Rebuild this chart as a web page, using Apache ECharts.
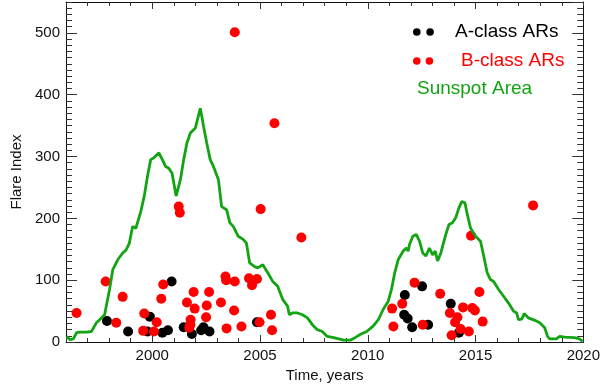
<!DOCTYPE html>
<html>
<head>
<meta charset="utf-8">
<script src="https://cdn.jsdelivr.net/npm/echarts@6/dist/echarts.min.js"></script>
<style>html,body{margin:0;padding:0;background:#fff}#c{width:603px;height:388px}</style>
</head>
<body>
<div id="c"></div>
<script>
// Sunspot area (scaled) line
var sunYears = [1996.03,1996.18,1996.34,1996.49,1996.64,1996.95,1997.18,1997.25,1997.41,1997.56,1997.79,1998.02,1998.17,1998.40,1998.63,1998.79,1998.94,1999.09,1999.24,1999.47,1999.63,1999.78,1999.93,2000.08,2000.16,2000.31,2000.47,2000.62,2000.77,2000.92,2001.11,2001.31,2001.46,2001.61,2001.77,2002.00,2002.23,2002.30,2002.38,2002.53,2002.69,2002.84,2003.07,2003.22,2003.45,2003.60,2003.76,2003.99,2004.22,2004.37,2004.52,2004.75,2004.90,2005.13,2005.36,2005.59,2005.82,2006.05,2006.28,2006.36,2006.51,2006.74,2006.97,2007.20,2007.43,2007.66,2007.89,2008.12,2008.42,2008.65,2008.88,2009.18,2009.41,2009.64,2009.95,2010.26,2010.49,2010.72,2010.95,2011.10,2011.25,2011.41,2011.64,2011.79,2011.87,2011.94,2012.09,2012.25,2012.40,2012.55,2012.70,2012.86,2013.01,2013.13,2013.24,2013.39,2013.62,2013.77,2013.93,2014.08,2014.23,2014.36,2014.51,2014.62,2014.77,2015.00,2015.23,2015.38,2015.54,2015.69,2015.84,2016.07,2016.30,2016.53,2016.76,2016.91,2016.99,2017.14,2017.26,2017.45,2017.75,2017.98,2018.21,2018.34,2018.44,2018.75,2018.90,2019.13,2019.59,2019.82,2019.97];
var sunValues = [9,4,5,15,16,16,17,20,31,36,44,85,117,133,144,149,160,187,184,211,236,268,295,298,300,306,295,284,281,273,236,263,295,322,338,346,378,365,349,322,295,284,263,219,214,193,187,171,166,160,128,122,120,125,112,98,90,69,58,44,47,47,44,39,28,20,17,9,7,5,3,3,7,12,17,26,36,53,66,85,112,133,147,152,147,158,171,174,163,144,139,152,141,147,131,144,174,190,193,201,217,227,225,206,184,171,163,139,112,101,98,85,74,63,50,47,36,37,46,39,35,31,23,9,5,5,9,8,7,5,1];

// A-class ARs (black)
var aYears = [1997.90,1998.88,1999.78,1999.89,2000.47,2000.73,2000.90,2001.46,2001.84,2002.27,2002.38,2002.66,2004.86,2011.72,2012.52,2011.69,2011.85,2012.06,2012.80,2013.85,2014.23];
var aValues = [34,17,17,41,15,19,98,24,13,19,24,17,32,76,90,44,38,24,28,62,15];

// B-class ARs (red)
var bYears = [1996.49,1997.84,1998.33,1998.63,1999.63,1999.58,2000.08,2000.21,2000.42,2000.51,2001.23,2001.28,2001.61,2001.78,2001.77,2001.72,2001.92,2001.97,2002.50,2002.53,2002.64,2003.19,2003.40,2003.43,2003.83,2003.80,2003.45,2003.83,2004.14,2004.49,2004.63,2004.86,2005.03,2004.98,2005.51,2005.56,2005.67,2006.92,2011.13,2011.19,2011.60,2012.17,2012.55,2013.36,2013.81,2013.89,2014.05,2014.16,2014.31,2014.42,2014.69,2014.85,2014.97,2015.18,2015.33,2014.79,2017.67];
var bValues = [47,98,31,73,46,18,17,32,70,93,219,209,64,36,28,23,81,54,40,59,81,64,106,100,98,51,22,501,25,103,92,102,215,32,44,19,354,169,54,25,62,96,28,78,47,11,32,40,21,56,17,55,51,81,33,172,221];

// Major x ticks inside the plot (labels every 5 years)
var xMajorTicks = [2000,2005,2010,2015];

var FONT = "Liberation Sans";
var GREEN = '#12a412';

function pairs(xs, ys){ return xs.map(function(x,i){ return [x, ys[i]]; }); }

var chart = echarts.init(document.getElementById('c'));

var nameStyle = {fontSize:15, color:'#111', fontFamily:FONT};
var legText = function(c){ return {fontSize:19, fontFamily:FONT, color:c, lineHeight:20}; };
var iconA = 'path://M0,0M0,3.8a3.8,3.8 0 1,0 7.6,0a3.8,3.8 0 1,0 -7.6,0M13.3,3.8a3.8,3.8 0 1,0 7.6,0a3.8,3.8 0 1,0 -7.6,0M37,7.6';
var iconB = 'path://M0,0M0,3.8a3.8,3.8 0 1,0 7.6,0a3.8,3.8 0 1,0 -7.6,0M12.6,3.8a3.8,3.8 0 1,0 7.6,0a3.8,3.8 0 1,0 -7.6,0M43,7.6';

chart.setOption({
  animation:false,
  grid:{left:66, right:14, top:2, bottom:46},
  legend:[
    {data:['A-class ARs'], left:413, top:22, padding:0, selectedMode:false, icon:iconA,
     itemWidth:37, itemHeight:7.6, textStyle:legText('#000')},
    {data:['B-class ARs'], left:413, top:51, padding:0, selectedMode:false, icon:iconB,
     itemWidth:43, itemHeight:7.6, textStyle:legText('#ff0000')},
    {data:[{name:'Sunspot Area', itemStyle:{opacity:0}, lineStyle:{opacity:0}}], left:411, top:79, padding:0,
     selectedMode:false, icon:'rect', itemWidth:1, itemHeight:1, textStyle:legText(GREEN)}
  ],
  xAxis:[
    {type:'value', min:1996, max:2020, interval:1, position:'bottom', splitLine:{show:false},
     axisLine:{show:true, onZero:false, lineStyle:{color:'#111'}},
     axisTick:{show:true, inside:true, length:4, lineStyle:{color:'#333'}},
     axisLabel:{show:true, fontSize:15, color:'#111', fontFamily:FONT, margin:6,
       formatter:function(v){ return (Math.round(v) % 5 === 0) ? String(Math.round(v)) : ''; }},
     name:'Time, years', nameLocation:'middle', nameGap:21, nameTextStyle:nameStyle},
    {type:'value', min:1996, max:2020, position:'bottom', splitLine:{show:false},
     axisLine:{show:false, onZero:false},
     axisTick:{show:true, inside:true, length:7, customValues:xMajorTicks, lineStyle:{color:'#333'}},
     axisLabel:{show:false}},
    {type:'value', min:1996, max:2020, interval:1, position:'top', splitLine:{show:false},
     axisLine:{show:true, onZero:false, lineStyle:{color:'#111'}},
     axisTick:{show:true, inside:true, length:4, lineStyle:{color:'#333'}},
     axisLabel:{show:false}},
    {type:'value', min:1996, max:2020, position:'top', splitLine:{show:false},
     axisLine:{show:false, onZero:false},
     axisTick:{show:true, inside:true, length:7, customValues:xMajorTicks, lineStyle:{color:'#333'}},
     axisLabel:{show:false}}
  ],
  yAxis:[
    {type:'value', min:0, max:550, interval:100, position:'left', splitLine:{show:false},
     axisLine:{show:true, onZero:false, lineStyle:{color:'#111'}},
     axisTick:{show:true, inside:true, length:11, lineStyle:{color:'#333'}},
     axisLabel:{show:true, showMaxLabel:false, fontSize:15, color:'#111', fontFamily:FONT, margin:6},
     name:'Flare Index', nameLocation:'middle', nameGap:35, nameRotate:90, nameTextStyle:nameStyle},
    {type:'value', min:0, max:550, interval:10, position:'left', splitLine:{show:false},
     axisLine:{show:false, onZero:false},
     axisTick:{show:true, inside:true, length:6, lineStyle:{color:'#333'}},
     axisLabel:{show:false}},
    {type:'value', min:0, max:550, interval:100, position:'right', splitLine:{show:false},
     axisLine:{show:true, onZero:false, lineStyle:{color:'#111'}},
     axisTick:{show:true, inside:true, length:11, lineStyle:{color:'#333'}},
     axisLabel:{show:false}},
    {type:'value', min:0, max:550, interval:10, position:'right', splitLine:{show:false},
     axisLine:{show:false, onZero:false},
     axisTick:{show:true, inside:true, length:6, lineStyle:{color:'#333'}},
     axisLabel:{show:false}}
  ],
  series:[
    {type:'line', name:'Sunspot Area', xAxisIndex:0, yAxisIndex:0, data:pairs(sunYears,sunValues),
     showSymbol:false, symbol:'none', lineStyle:{color:GREEN, width:2.8}, itemStyle:{color:GREEN}},
    {type:'scatter', name:'A-class ARs', xAxisIndex:0, yAxisIndex:0, data:pairs(aYears,aValues),
     symbol:'circle', symbolSize:10, itemStyle:{color:'#000', opacity:1}},
    {type:'scatter', name:'B-class ARs', xAxisIndex:0, yAxisIndex:0, data:pairs(bYears,bValues),
     symbol:'circle', symbolSize:10, itemStyle:{color:'#ff0000', opacity:1}}
  ]
});
</script>
</body>
</html>
